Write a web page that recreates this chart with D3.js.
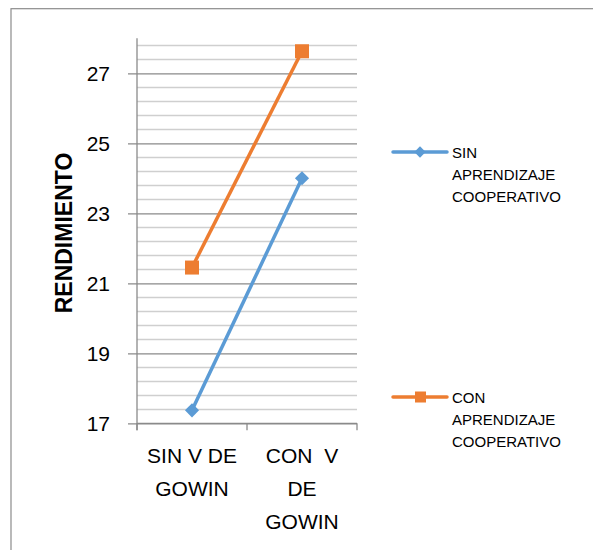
<!DOCTYPE html>
<html>
<head>
<meta charset="utf-8">
<script src="https://cdn.jsdelivr.net/npm/d3@7"></script>
<style>
  html, body { margin: 0; padding: 0; background: #fff; }
  svg { display: block; font-family: "Liberation Sans", Arial, sans-serif; }
  text { white-space: pre; }
</style>
</head>
<body>
<svg id="chart" width="593" height="550"></svg>
<script>
// ---- data ----
const categories = ["SIN V DE GOWIN", "CON  V DE GOWIN"];
const categoryLines = [["SIN V DE", "GOWIN"], ["CON  V", "DE", "GOWIN"]];
const seriesNames = ["SIN APRENDIZAJE COOPERATIVO", "CON APRENDIZAJE COOPERATIVO"];
const legendLines = [["SIN", "APRENDIZAJE", "COOPERATIVO"], ["CON", "APRENDIZAJE", "COOPERATIVO"]];
const sinValues = [17.37, 24.0];
const conValues = [21.45, 27.63];
const yTicks = [17, 19, 21, 23, 25, 27];
const yTitle = "RENDIMIENTO";

// ---- layout ----
const svg = d3.select("#chart");
const pLeft = 137, pRight = 357, pTop = 38.3, pBottom = 423.3;
const y = d3.scaleLinear().domain([17, 28]).range([pBottom, pTop]);
const x = d3.scaleBand().domain(categories).range([pLeft, pRight]);
const colors = ["#5B9BD5", "#ED7D31"];

// outer frame
svg.append("rect").attr("x", 11).attr("y", 8.7).attr("width", 600).attr("height", 560)
  .attr("fill", "none").attr("stroke", "#8c8c8c").attr("stroke-width", 1.2);

// minor gridlines
const minor = d3.range(0, 28).map(i => +(17 + i * 0.4).toFixed(1))
  .filter(v => v <= 27.85 && Math.abs((v - 17) / 2 - Math.round((v - 17) / 2)) > 1e-6);
svg.append("g").selectAll("line").data(minor).join("line")
  .attr("x1", pLeft).attr("x2", pRight)
  .attr("y1", d => Math.round(y(d)) + 0.5).attr("y2", d => Math.round(y(d)) + 0.5)
  .attr("stroke", "#cfcfcf").attr("stroke-width", 1.3);

// major gridlines with ticks
const yAxis = d3.axisLeft(y).tickValues(yTicks).tickSize(-(pRight - pLeft)).tickSizeOuter(0);
const gy = svg.append("g").attr("transform", `translate(${pLeft},0)`).call(yAxis);
gy.select(".domain").remove();
gy.selectAll(".tick line").attr("x1", -9).attr("stroke", "#8a8a8a").attr("stroke-width", 1.3);
gy.selectAll(".tick text").attr("font-size", 21).attr("fill", "#000")
  .attr("font-family", "Liberation Sans, Arial, sans-serif").attr("x", -27);

// y axis line
svg.append("line").attr("x1", pLeft).attr("x2", pLeft).attr("y1", pTop).attr("y2", pBottom + 7)
  .attr("stroke", "#8a8a8a").attr("stroke-width", 1.3);

// x axis
const xAxis = d3.axisBottom(x).tickSize(0).tickFormat("");
const gx = svg.append("g").attr("transform", `translate(0,${pBottom})`).call(xAxis);
gx.select(".domain").attr("stroke", "#8a8a8a").attr("stroke-width", 1.3).attr("d", `M${pLeft},0H${pRight}`);
const bounds = [pLeft, ...categories.map(c => x(c) + x.bandwidth())];
svg.append("g").selectAll("line").data(bounds).join("line")
  .attr("x1", d => d).attr("x2", d => d).attr("y1", pBottom).attr("y2", pBottom + 7)
  .attr("stroke", "#8a8a8a").attr("stroke-width", 1.3);

// x labels
categories.forEach((c, i) => {
  const cx = x(c) + x.bandwidth() / 2;
  svg.append("text").attr("x", cx).attr("y", 463).attr("text-anchor", "middle")
    .attr("font-size", 21).attr("fill", "#000")
    .selectAll("tspan").data(categoryLines[i]).join("tspan")
    .attr("x", cx).attr("dy", (d, j) => j === 0 ? 0 : 33).text(d => d);
});

// y title
svg.append("text").attr("transform", `translate(72,233) rotate(-90)`)
  .attr("text-anchor", "middle").attr("font-size", 23).attr("font-weight", "bold")
  .attr("fill", "#000").text(yTitle);

// series lines
const seriesData = [sinValues, conValues];
const line = d3.line().x((d, i) => x(categories[i]) + x.bandwidth() / 2).y(d => y(d));
seriesData.forEach((vals, s) => {
  svg.append("path").datum(vals).attr("d", line).attr("fill", "none")
    .attr("stroke", colors[s]).attr("stroke-width", 3.5).attr("stroke-linejoin", "round");
});
// markers
svg.append("g").selectAll("rect").data(sinValues).join("rect")
  .attr("x", -5).attr("y", -5).attr("width", 10).attr("height", 10).attr("fill", colors[0])
  .attr("transform", (d, i) => `translate(${x(categories[i]) + x.bandwidth() / 2},${y(d)}) rotate(45)`);
svg.append("g").selectAll("rect").data(conValues).join("rect")
  .attr("x", (d, i) => x(categories[i]) + x.bandwidth() / 2 - 7)
  .attr("y", d => y(d) - 7).attr("width", 14).attr("height", 14).attr("fill", colors[1]);

// legend
const legendY = [152, 397];
seriesNames.forEach((name, s) => {
  const g = svg.append("g");
  g.append("line").attr("x1", 393).attr("x2", 447).attr("y1", legendY[s]).attr("y2", legendY[s])
    .attr("stroke", colors[s]).attr("stroke-width", 3.5).attr("stroke-linecap", "round");
  if (s === 0) {
    g.append("rect").attr("x", -4).attr("y", -4).attr("width", 8).attr("height", 8)
      .attr("fill", colors[0]).attr("transform", `translate(420,${legendY[s]}) rotate(45)`);
  } else {
    g.append("rect").attr("x", 415).attr("y", legendY[s] - 5.5).attr("width", 11).attr("height", 11)
      .attr("fill", colors[1]);
  }
  g.append("text").attr("x", 452).attr("y", legendY[s] + 5.5).attr("font-size", 15).attr("fill", "#000")
    .selectAll("tspan").data(legendLines[s]).join("tspan")
    .attr("x", 452).attr("dy", (d, j) => j === 0 ? 0 : 22).text(d => d);
});
</script>
</body>
</html>
